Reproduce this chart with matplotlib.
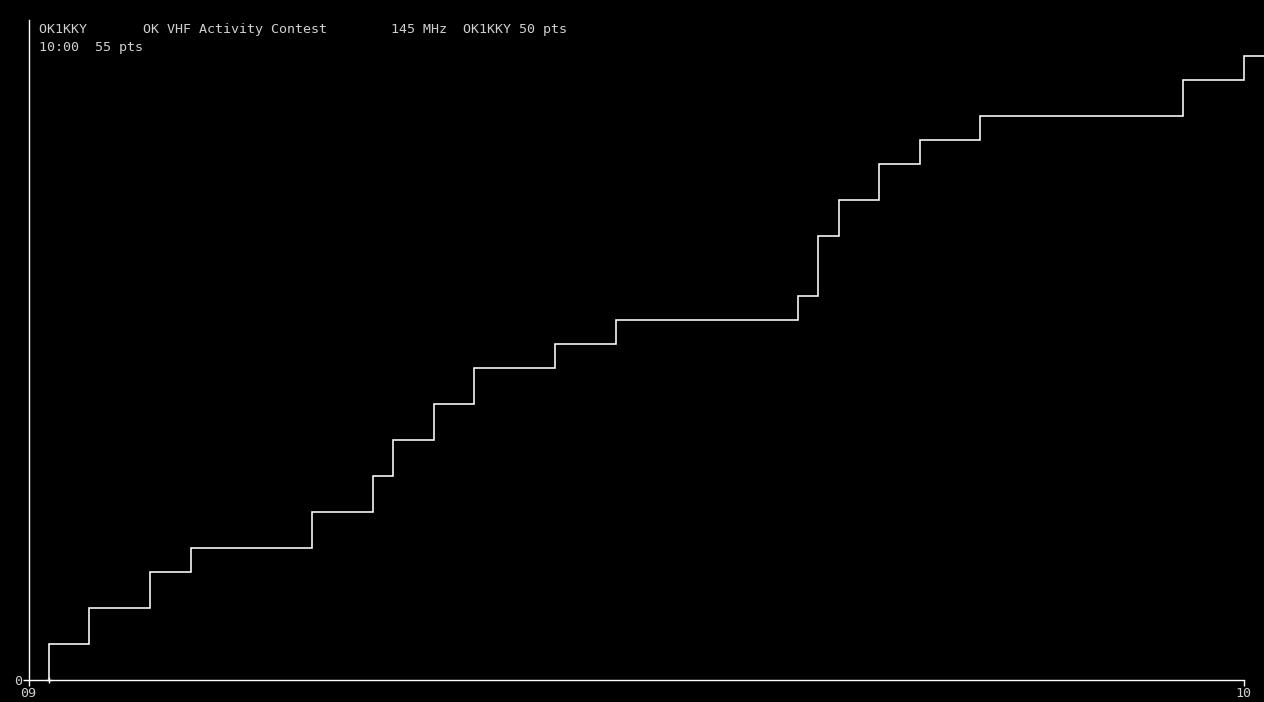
import matplotlib
matplotlib.use("Agg")
import matplotlib.pyplot as plt

# minutes after 09:00 at which the score stepped up, and score after the step
step_minutes = [1, 3, 6, 8, 14, 17, 18, 20, 22, 26, 29, 38, 39, 40, 42, 44, 47, 57, 60]
step_points = [3, 6, 9, 11, 14, 17, 20, 23, 26, 28, 30, 32, 37, 40, 43, 45, 47, 50, 52]
tick_minutes = [0, 60]
tick_labels = ["09", "10"]

header1 = "OK1KKY       OK VHF Activity Contest        145 MHz  OK1KKY 50 pts"
header2 = "10:00  55 pts"

W, H = 1264, 702
left_px = 28.6
fig = plt.figure(figsize=(W / 100, H / 100), dpi=100, facecolor="black")
ax = fig.add_axes([left_px / W, 22 / H, (W - left_px) / W, 660 / H], facecolor="black")

# build the stair path: start at zero at the first minute
xs = [step_minutes[0]]
ys = [0]
prev = 0
for m, p in zip(step_minutes, step_points):
    xs += [m, m]
    ys += [prev, p]
    prev = p
xs.append(61)
ys.append(prev)
ax.plot(xs, ys, color="white", lw=1.15, clip_on=False, solid_joinstyle="miter")
ax.plot([step_minutes[0]], [0], marker="+", color="white", ms=4, mew=1, clip_on=False)

ax.set_xlim(0, (W - left_px) / 20.25)
ax.set_ylim(0, 55)

for s in ["top", "right"]:
    ax.spines[s].set_visible(False)
ax.spines["left"].set_color("white")
ax.spines["bottom"].set_color("white")
ax.spines["left"].set_linewidth(1)
ax.spines["bottom"].set_linewidth(1)
ax.spines["bottom"].set_bounds(0, 60)

ax.set_xticks(tick_minutes)
ax.set_xticklabels(tick_labels)
ax.set_yticks([0])
ax.set_yticklabels(["0"])
ax.tick_params(colors="white", labelcolor="#d0d0d0", length=4, width=1, pad=1,
               labelsize=9.6)
for lab in ax.get_xticklabels() + ax.get_yticklabels():
    lab.set_family("DejaVu Sans Mono")

fig.text(39 / W, 1 - 29 / H, header1, color="#d0d0d0", family="DejaVu Sans Mono",
         fontsize=9.6, va="center", ha="left")
fig.text(39 / W, 1 - 47 / H, header2, color="#d0d0d0", family="DejaVu Sans Mono",
         fontsize=9.6, va="center", ha="left")

fig.savefig("out.png", dpi=100, facecolor="black")
